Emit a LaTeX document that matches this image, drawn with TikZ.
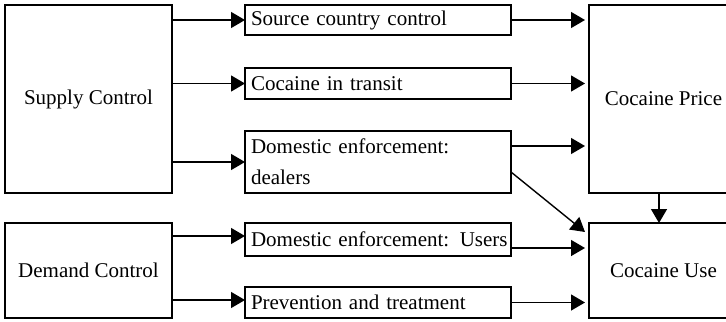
\documentclass[tikz,border=0pt]{standalone}
\usepackage{fontspec}
\setmainfont{Liberation Serif}
\usetikzlibrary{arrows.meta,positioning}

\begin{document}
\begin{tikzpicture}[
    node distance=15pt and 36.5pt,
    bigbox/.style={draw, rectangle, line width=0.9pt, outer sep=0pt, minimum width=83.5pt, align=center, font=\fontsize{10.5pt}{15.5pt}\selectfont},
    block/.style={draw, rectangle, line width=0.9pt, outer sep=0pt, text width=127pt, inner xsep=3pt, inner ysep=1pt, align=left, font=\fontsize{10.5pt}{15.5pt}\selectfont},
    outbox/.style={draw, rectangle, line width=0.9pt, outer sep=0pt, minimum width=74.5pt, align=center, font=\fontsize{10.5pt}{15.5pt}\selectfont},
    arrow/.style={-{Triangle[length=7pt,width=8pt]}, line width=0.7pt}
]
    \useasboundingbox (0,0) rectangle (363pt,-160.5pt);

    % Left: policy levers
    \node [bigbox, minimum height=94pt, anchor=north west] (supply) at (2.5pt,-2.5pt) {Supply Control};
    \node [bigbox, minimum height=47.5pt, below=of supply] (demand) {Demand Control};

    % Middle: programs
    \node [block, minimum height=15pt, right=of supply.north east, anchor=north west] (source) {Source country control};
    \node [block, minimum height=15.5pt, below=16.5pt of source.south west, anchor=north west] (transit) {Cocaine in transit};
    \node [block, minimum height=31pt, below=16pt of transit.south west, anchor=north west] (dealers) {Domestic enforcement:\\dealers};
    \node [block, minimum height=16.5pt, right=of demand.north east, anchor=north west] (users) {\mbox{Domestic enforcement: Users}};
    \node [block, minimum height=15.5pt, right=of demand.south east, anchor=south west] (prevention) {Prevention and treatment};

    % Right: outcomes
    \node [outbox, minimum height=94pt, right=39pt of source.north east, anchor=north west] (price) {Cocaine Price};
    \node [outbox, minimum height=47.5pt, below=of price] (use) {Cocaine Use};

    % Arrows from supply
    \draw [arrow] (supply.east |- source.west) -- (source.west);
    \draw [arrow] (supply.east |- transit.west) -- (transit.west);
    \draw [arrow] (supply.east |- dealers.west) -- (dealers.west);

    % Arrows from demand
    \draw [arrow] ([yshift=1.75pt]demand.east |- users.west) -- ([yshift=1.75pt]users.west);
    \draw [arrow] ([yshift=1.25pt]demand.east |- prevention.west) -- ([yshift=1.25pt]prevention.west);

    % Arrows to price
    \draw [arrow, shorten >=2pt] (source.east) -- (source.east -| price.west);
    \draw [arrow, shorten >=2pt] (transit.east) -- (transit.east -| price.west);
    \draw [arrow, shorten >=2pt] ([yshift=8pt]dealers.east) -- ([yshift=8pt]dealers.east -| price.west);

    % Arrows to use
    \draw [arrow] ([yshift=-5pt]dealers.east) -- ([xshift=-2pt,yshift=-4.5pt]use.north west);
    \draw [arrow, shorten >=2pt] ([yshift=-4.25pt]users.east) -- ([yshift=-4.25pt]users.east -| use.west);
    \draw [arrow, shorten >=2pt] (prevention.east) -- (prevention.east -| use.west);
    \draw [arrow] ([xshift=-2.25pt]price.south) -- ([xshift=-2.25pt]use.north);

\end{tikzpicture}
\end{document}
